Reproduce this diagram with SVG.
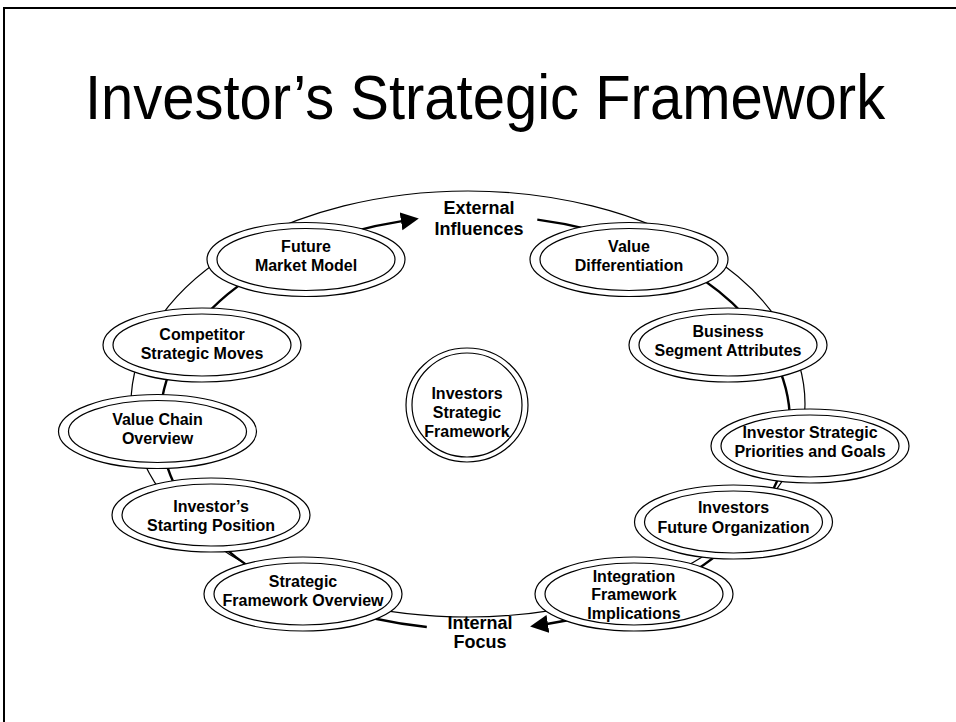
<svg xmlns="http://www.w3.org/2000/svg" width="956" height="722" viewBox="0 0 956 722">
<defs>
<style>
.o{fill:#fff;stroke:#000;stroke-width:1.2}
.i{fill:none;stroke:#000;stroke-width:1.2}
.t{font-family:"Liberation Sans",Arial,sans-serif;font-weight:bold;font-size:16px;text-anchor:middle;fill:#000}
.lbl{font-family:"Liberation Sans",Arial,sans-serif;font-weight:bold;font-size:18px;text-anchor:middle;fill:#000}
</style>
<marker id="ah" markerUnits="userSpaceOnUse" markerWidth="20" markerHeight="20" refX="1" refY="9" orient="auto">
<path d="M0,0 L18,9 L0,18 z" fill="#000"/>
</marker>
</defs>
<rect width="956" height="722" fill="#fff"/>
<rect x="4" y="8" width="962" height="724" fill="none" stroke="#000" stroke-width="2"/>
<text transform="translate(485,119) scale(1,1.1)" x="0" y="0" font-family="'Liberation Sans',Arial,sans-serif" font-size="58" text-anchor="middle">Investor’s Strategic Framework</text>
<text class="lbl" x="479" y="213.5">External</text>
<text class="lbl" x="479" y="234.5">Influences</text>
<text class="lbl" x="480" y="628.5">Internal</text>
<text class="lbl" x="480" y="647.5">Focus</text>
<g id="connectors" fill="none" stroke="#000">
<ellipse cx="468" cy="404" rx="337" ry="213" stroke-width="1.2"/>
<path d="M426.8,627 A315,207 0 0 1 160,422.5 A315,207 0 0 1 402,221.1" stroke-width="2.4" marker-end="url(#ah)"/>
<path d="M537.3,219.6 A315,207 0 0 1 790,422.5 A315,207 0 0 1 546.9,624" stroke-width="2.4" marker-end="url(#ah)"/>
</g>
<g id="future-market-model"><ellipse class="o" cx="306" cy="259.5" rx="99" ry="37"/><ellipse class="i" cx="306" cy="259.5" rx="89" ry="31"/><text class="t" x="306" y="252">Future</text><text class="t" x="306" y="271">Market Model</text></g>
<g id="value-differentiation"><ellipse class="o" cx="629" cy="259.5" rx="99" ry="37"/><ellipse class="i" cx="629" cy="259.5" rx="89" ry="31"/><text class="t" x="629" y="252">Value</text><text class="t" x="629" y="271">Differentiation</text></g>
<g id="business-segment-attributes"><ellipse class="o" cx="728" cy="345" rx="99" ry="37"/><ellipse class="i" cx="728" cy="345" rx="89" ry="31"/><text class="t" x="728" y="337">Business</text><text class="t" x="728" y="356">Segment Attributes</text></g>
<g id="investor-strategic-priorities"><ellipse class="o" cx="810" cy="446" rx="99" ry="37"/><ellipse class="i" cx="810" cy="446" rx="89" ry="31"/><text class="t" x="810" y="438">Investor Strategic</text><text class="t" x="810" y="457">Priorities and Goals</text></g>
<g id="investors-future-organization"><ellipse class="o" cx="733.5" cy="522" rx="99" ry="37"/><ellipse class="i" cx="733.5" cy="522" rx="89" ry="31"/><text class="t" x="733.5" y="513">Investors</text><text class="t" x="733.5" y="533">Future Organization</text></g>
<g id="integration-framework-implications"><ellipse class="o" cx="634" cy="594" rx="99" ry="37"/><ellipse class="i" cx="634" cy="594" rx="89" ry="31"/><text class="t" x="634" y="582">Integration</text><text class="t" x="634" y="600">Framework</text><text class="t" x="634" y="619">Implications</text></g>
<g id="strategic-framework-overview"><ellipse class="o" cx="303" cy="594" rx="99" ry="37"/><ellipse class="i" cx="303" cy="594" rx="89" ry="31"/><text class="t" x="303" y="587">Strategic</text><text class="t" x="303" y="606">Framework Overview</text></g>
<g id="investors-starting-position"><ellipse class="o" cx="211" cy="515" rx="99" ry="37"/><ellipse class="i" cx="211" cy="515" rx="89" ry="31"/><text class="t" x="211" y="512">Investor’s</text><text class="t" x="211" y="531">Starting Position</text></g>
<g id="value-chain-overview"><ellipse class="o" cx="157.5" cy="431.5" rx="99" ry="37"/><ellipse class="i" cx="157.5" cy="431.5" rx="89" ry="31"/><text class="t" x="157.5" y="425">Value Chain</text><text class="t" x="157.5" y="444">Overview</text></g>
<g id="competitor-strategic-moves"><ellipse class="o" cx="202" cy="345" rx="99" ry="37"/><ellipse class="i" cx="202" cy="345" rx="89" ry="31"/><text class="t" x="202" y="340">Competitor</text><text class="t" x="202" y="359">Strategic Moves</text></g>
<g id="investors-strategic-framework"><ellipse class="o" cx="467" cy="405" rx="61" ry="57"/><ellipse class="i" cx="467" cy="405" rx="55" ry="52"/><text class="t" x="467" y="399">Investors</text><text class="t" x="467" y="418">Strategic</text><text class="t" x="467" y="437">Framework</text></g>
</svg>
